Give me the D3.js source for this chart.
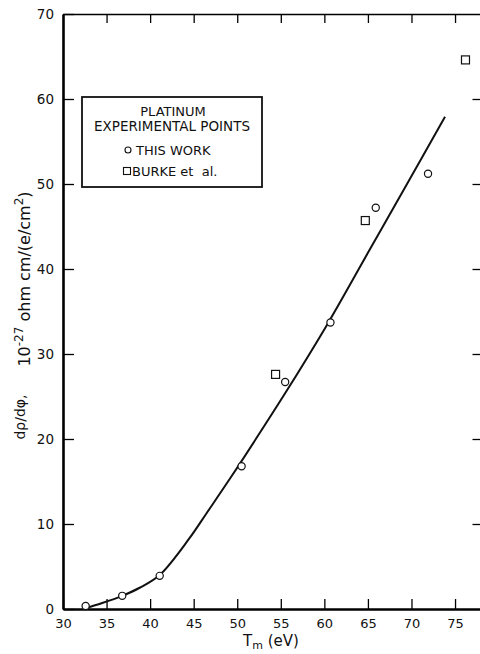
<!DOCTYPE html>
<html>
<head>
<meta charset="utf-8">
<script src="https://cdnjs.cloudflare.com/ajax/libs/d3/7.8.5/d3.min.js"></script>
<style>
  body { margin: 0; background: #fff; }
  svg text { font-family: "DejaVu Sans", sans-serif; fill: #111; }
</style>
</head>
<body>
<div id="graph"></div>
<script>
// data
var thisWorkT = [32.6, 36.8, 41.1, 50.5, 55.5, 60.7, 65.9, 71.9];
var thisWorkV = [0.35, 1.55, 3.9, 16.8, 26.7, 33.7, 47.2, 51.2];
var burkeT = [54.4, 64.7, 76.2];
var burkeV = [27.6, 45.7, 64.6];
// the drawn curve
var fitT = [32.3, 34.5, 36.8, 38.8, 41.1, 44.5, 46.5, 49.4, 52.8, 56, 60.4, 65, 69.6, 73.85];
var fitV = [0, 0.7, 1.55, 2.5, 4.0, 8.3, 11.3, 15.7, 21.05, 26.2, 33.6, 41.9, 50.2, 57.9];
var xTicks = [30, 35, 40, 45, 50, 55, 60, 65, 70, 75];
var yTicks = [0, 10, 20, 30, 40, 50, 60, 70];

var width = 480, height = 654;
var svg = d3.select("#graph").append("svg")
    .attr("width", width)
    .attr("height", height);

var x = d3.scaleLinear().domain([30, 77.9]).range([63, 480.3]);
var y = d3.scaleLinear().domain([0, 70]).range([609, 14]);

// bottom axis
var gx = svg.append("g")
  .attr("transform", "translate(0," + y(0) + ")")
  .call(d3.axisBottom(x).tickValues(xTicks).tickSize(-10).tickSizeOuter(0).tickPadding(10));
gx.select(".domain").attr("stroke-width", 2.6);

// left axis
var gy = svg.append("g")
  .attr("transform", "translate(" + x(30) + ",0)")
  .call(d3.axisLeft(y).tickValues(yTicks).tickSize(-11).tickSizeOuter(0).tickPadding(9));
gy.select(".domain").attr("stroke-width", 2.6);

// top and right frame with ticks only
var gt = svg.append("g")
  .attr("transform", "translate(0," + y(70) + ")")
  .call(d3.axisTop(x).tickValues(xTicks.slice(1)).tickSize(-9).tickSizeOuter(0).tickFormat(""));
gt.select(".domain").attr("stroke-width", 1.3);

svg.append("g")
  .attr("transform", "translate(480.5,0)")
  .call(d3.axisRight(y).tickValues(yTicks.slice(1, 7)).tickSize(-8).tickSizeOuter(0).tickFormat(""));

svg.selectAll(".tick line").attr("stroke-width", 1.3);
gx.selectAll("text").style("font-size", "13px");
gy.selectAll("text").style("font-size", "13.5px");

// curve
var fit = fitT.map(function(t, i) { return [t, fitV[i]]; });
svg.append("path")
  .datum(fit)
  .attr("fill", "none")
  .attr("stroke", "#111")
  .attr("stroke-width", 2)
  .attr("d", d3.line()
    .x(function(d) { return x(d[0]); })
    .y(function(d) { return y(d[1]); })
    .curve(d3.curveCatmullRom.alpha(0.5)));

// points
svg.selectAll(".tw")
  .data(thisWorkT)
  .enter().append("circle")
  .attr("cx", function(d) { return x(d); })
  .attr("cy", function(d, i) { return y(thisWorkV[i]); })
  .attr("r", 3.6)
  .attr("fill", "#fff")
  .attr("stroke", "#111")
  .attr("stroke-width", 1.2);

svg.selectAll(".bk")
  .data(burkeT)
  .enter().append("rect")
  .attr("x", function(d) { return x(d) - 4; })
  .attr("y", function(d, i) { return y(burkeV[i]) - 4; })
  .attr("width", 8)
  .attr("height", 8)
  .attr("fill", "#fff")
  .attr("stroke", "#111")
  .attr("stroke-width", 1.2);

// legend
var lg = svg.append("g");
lg.append("rect")
  .attr("x", 82).attr("y", 97)
  .attr("width", 180).attr("height", 90)
  .attr("fill", "#fff")
  .attr("stroke", "#111")
  .attr("stroke-width", 1.8);
lg.append("text").attr("x", 173).attr("y", 115.5).attr("text-anchor", "middle")
  .style("font-size", "13px").text("PLATINUM");
lg.append("text").attr("x", 172).attr("y", 131).attr("text-anchor", "middle")
  .style("font-size", "13.5px").text("EXPERIMENTAL POINTS");
lg.append("circle").attr("cx", 128).attr("cy", 150).attr("r", 3)
  .attr("fill", "#fff").attr("stroke", "#111").attr("stroke-width", 1.1);
lg.append("text").attr("x", 136).attr("y", 155).style("font-size", "13px").text("THIS WORK");
lg.append("rect").attr("x", 123.5).attr("y", 167.5).attr("width", 7).attr("height", 7)
  .attr("fill", "#fff").attr("stroke", "#111").attr("stroke-width", 1.1);
lg.append("text").attr("x", 132).attr("y", 176).style("font-size", "13px")
  .style("white-space", "pre").text("BURKE et  al.");

// axis titles
var xt = svg.append("text").attr("x", 271).attr("y", 646).attr("text-anchor", "middle")
  .style("font-size", "15px");
xt.append("tspan").text("T");
xt.append("tspan").attr("dy", 3).style("font-size", "11px").text("m");
xt.append("tspan").attr("dy", -3).text(" (eV)");

svg.append("text")
  .attr("transform", "translate(25,417) rotate(-90)")
  .attr("text-anchor", "middle")
  .style("font-size", "14px")
  .text("d\u03c1/d\u03c6,");

var yt = svg.append("text")
  .attr("transform", "translate(30,279) rotate(-90)")
  .attr("text-anchor", "middle")
  .style("font-size", "16px");
yt.append("tspan").text("10");
yt.append("tspan").attr("dy", -7).style("font-size", "12px").text("-27");
yt.append("tspan").attr("dy", 7).text(" ohm cm/(e/cm");
yt.append("tspan").attr("dy", -7).style("font-size", "12px").text("2");
yt.append("tspan").attr("dy", 7).text(")");
</script>
</body>
</html>
